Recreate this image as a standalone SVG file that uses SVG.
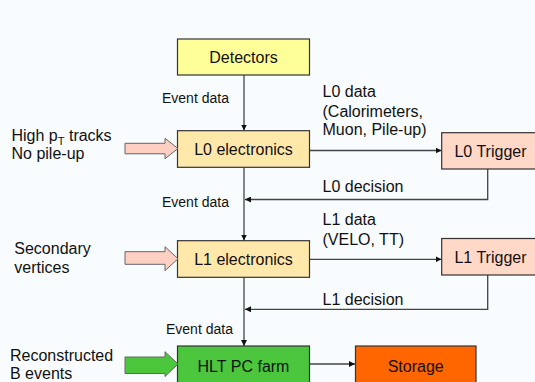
<svg xmlns="http://www.w3.org/2000/svg" width="535" height="382" viewBox="0 0 535 382">
<defs>
<marker id="ah" viewBox="0 0 10 10" refX="10" refY="5" markerWidth="6" markerHeight="6" markerUnits="userSpaceOnUse" orient="auto">
<path d="M0,0 L10,5 L0,10 z" fill="#111"/>
</marker>
<style>
text{font-family:"Liberation Sans",Arial,sans-serif;fill:#111}
.b{font-size:16px}
.s{font-size:14px}
.c{text-anchor:middle}
.box{stroke:#333;stroke-width:1.2}
.ln{fill:none;stroke:#444;stroke-width:1.3}
.fat{stroke:#666;stroke-width:1}
</style>
</defs>
<rect width="535" height="382" fill="#f8fcfe"/>
<g id="connectors">
<line class="ln" x1="244" y1="75" x2="244" y2="130.5" marker-end="url(#ah)"/>
<line class="ln" x1="244" y1="167.5" x2="244" y2="240.5" marker-end="url(#ah)"/>
<line class="ln" x1="244" y1="277.5" x2="244" y2="346" marker-end="url(#ah)"/>
<line class="ln" x1="309.5" y1="150.5" x2="441.5" y2="150.5" marker-end="url(#ah)"/>
<polyline class="ln" points="487.7,169 487.7,199.5 245,199.5" marker-end="url(#ah)"/>
<line class="ln" x1="309.5" y1="259.3" x2="441.5" y2="259.3" marker-end="url(#ah)"/>
<polyline class="ln" points="487.7,275 487.7,309.3 245,309.3" marker-end="url(#ah)"/>
<line class="ln" x1="309.5" y1="364" x2="355" y2="364" marker-end="url(#ah)"/>
<text class="s" x="162" y="103">Event data</text>
<text class="s" x="162" y="207">Event data</text>
<text class="s" x="166" y="334">Event data</text>
<text class="b" x="322.5" y="97">L0 data</text>
<text class="b" x="322.5" y="116.5">(Calorimeters,</text>
<text class="b" x="322.5" y="135">Muon, Pile-up)</text>
<text class="b" x="322.5" y="192">L0 decision</text>
<text class="b" x="322.5" y="225">L1 data</text>
<text class="b" x="322.5" y="244.5">(VELO, TT)</text>
<text class="b" x="322.5" y="304.5">L1 decision</text>
</g>
<g id="detectors">
<rect class="box" x="177.5" y="39" width="132" height="36" fill="#ffff99"/>
<text class="b c" x="243.5" y="63">Detectors</text>
</g>
<g id="l0-electronics">
<rect class="box" x="177.5" y="130.7" width="132" height="36.6" fill="#ffe8aa"/>
<text class="b c" x="243.5" y="155">L0 electronics</text>
</g>
<g id="l0-trigger">
<rect class="box" x="441.7" y="132.7" width="98" height="36.3" fill="#ffd8c8"/>
<text class="b c" x="490.5" y="156.7">L0 Trigger</text>
</g>
<g id="l1-electronics">
<rect class="box" x="177.5" y="240.7" width="132" height="36.6" fill="#ffe8aa"/>
<text class="b c" x="243.5" y="265">L1 electronics</text>
</g>
<g id="l1-trigger">
<rect class="box" x="441.7" y="238.5" width="98" height="36.5" fill="#ffd8c8"/>
<text class="b c" x="490.5" y="263.3">L1 Trigger</text>
</g>
<g id="hlt">
<rect class="box" x="177.5" y="346" width="132" height="40" fill="#4cc63c"/>
<text class="b c" x="243.5" y="371.7">HLT PC farm</text>
</g>
<g id="storage">
<rect class="box" x="355.5" y="346" width="120.5" height="40" fill="#ff6600"/>
<text class="b c" x="415.7" y="371.7">Storage</text>
</g>
<g id="high-pt">
<path class="fat" d="M125,143.3 H165 V138.3 L178,148.5 L165,158.7 V153.8 H125 z" fill="#ffcfc3"/>
<text class="b" x="11.5" y="140.7">High p<tspan font-size="11" dy="4">T</tspan><tspan dy="-4"> tracks</tspan></text>
<text class="b" x="11.5" y="159.3">No pile-up</text>
</g>
<g id="secondary">
<path class="fat" d="M125,251.7 H165 V246.7 L178,258.7 L165,270.7 V264.3 H125 z" fill="#ffcfc3"/>
<text class="b" x="14.3" y="254.3">Secondary</text>
<text class="b" x="14.3" y="272.7">vertices</text>
</g>
<g id="reconstructed">
<path class="fat" d="M125,357 H165 V351.7 L178,364 L165,376.5 V373.5 H125 z" fill="#4cc63c"/>
<text class="b" x="10" y="360.7">Reconstructed</text>
<text class="b" x="10" y="379.3">B events</text>
</g>
</svg>
